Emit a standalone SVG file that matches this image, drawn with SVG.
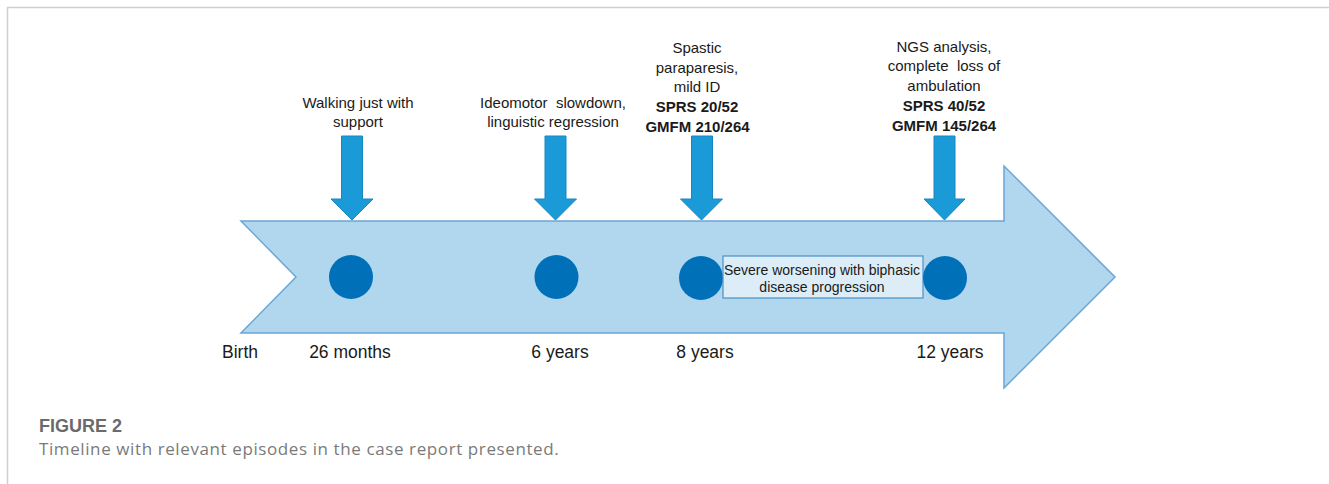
<svg xmlns="http://www.w3.org/2000/svg" width="1329" height="484" viewBox="0 0 1329 484">
<style>
.t{font-family:"Liberation Sans",Arial,sans-serif;fill:#1a1a1a;text-anchor:middle}
.top{font-size:15px}
.b{font-weight:bold}
.yr{font-size:17.5px}
.box{font-size:14px}
.down{fill:#1a9ad6;stroke:#1787c4;stroke-width:1}
.dot{fill:#0070b8}
.cap1{font-family:"Liberation Sans",Arial,sans-serif;font-size:18px;font-weight:bold;fill:#6a6a6a}
.cap2{font-family:"Open Sans","Liberation Sans",sans-serif;font-size:17px;letter-spacing:0.6px;fill:#7a7a7a}
</style>
<rect width="1329" height="484" fill="#fff"/>
<g id="frame">
<line x1="7" y1="7.5" x2="1329" y2="7.5" stroke="#cfcfcf" stroke-width="1.5"/>
<line x1="7.5" y1="7" x2="7.5" y2="484" stroke="#cfcfcf" stroke-width="1.5"/>
</g>
<g id="timeline">
<polygon points="241,221 1004,221 1004,166 1115,277 1004,388 1004,333 241,333 296,277" fill="#b0d7ed" stroke="#6aa6d6" stroke-width="1.5"/>
</g>
<g id="connectors">
<polygon class="down" points="341.5,136 362.5,136 362.5,199 373,199 352,220 331,199 341.5,199"/>
<polygon class="down" points="545,136 566,136 566,199 576.5,199 555.5,220 534.5,199 545,199"/>
<polygon class="down" points="691.5,136 712.5,136 712.5,199 722.5,199 701.5,220 680.5,199 691.5,199"/>
<polygon class="down" points="934,136 955,136 955,199 965,199 944.5,220 924,199 934,199"/>
</g>
<g id="node-birth">
<text class="t yr" x="240" y="358">Birth</text>
</g>
<g id="node-26months">
<circle class="dot" cx="351" cy="277" r="22"/>
<text class="t top" x="358" y="108">Walking just with</text>
<text class="t top" x="358" y="127">support</text>
<text class="t yr" x="350" y="358">26 months</text>
</g>
<g id="node-6years">
<circle class="dot" cx="556.5" cy="277" r="22"/>
<text class="t top" x="553" y="108" xml:space="preserve">Ideomotor  slowdown,</text>
<text class="t top" x="553" y="127">linguistic regression</text>
<text class="t yr" x="560" y="358">6 years</text>
</g>
<g id="node-8years">
<circle class="dot" cx="701" cy="278" r="22"/>
<text class="t top" x="697" y="53">Spastic</text>
<text class="t top" x="697" y="73">paraparesis,</text>
<text class="t top" x="697" y="92">mild ID</text>
<text class="t top b" x="697" y="112">SPRS 20/52</text>
<text class="t top b" x="697.5" y="132">GMFM 210/264</text>
<text class="t yr" x="705" y="358">8 years</text>
</g>
<g id="node-worsening">
<rect x="723" y="256" width="200" height="42" fill="#dcedf8" stroke="#4b8fc8" stroke-width="1.2"/>
<text class="t box" x="822" y="275">Severe worsening with biphasic</text>
<text class="t box" x="822" y="292">disease progression</text>
</g>
<g id="node-12years">
<circle class="dot" cx="945" cy="278" r="22"/>
<text class="t top" x="944" y="52">NGS analysis,</text>
<text class="t top" x="944" y="71" xml:space="preserve">complete  loss of</text>
<text class="t top" x="944" y="91">ambulation</text>
<text class="t top b" x="944" y="111">SPRS 40/52</text>
<text class="t top b" x="944" y="131">GMFM 145/264</text>
<text class="t yr" x="950" y="358">12 years</text>
</g>
<g id="caption">
<text class="cap1" x="39" y="432">FIGURE 2</text>
<text class="cap2" x="39" y="455">Timeline with relevant episodes in the case report presented.</text>
</g>
</svg>
